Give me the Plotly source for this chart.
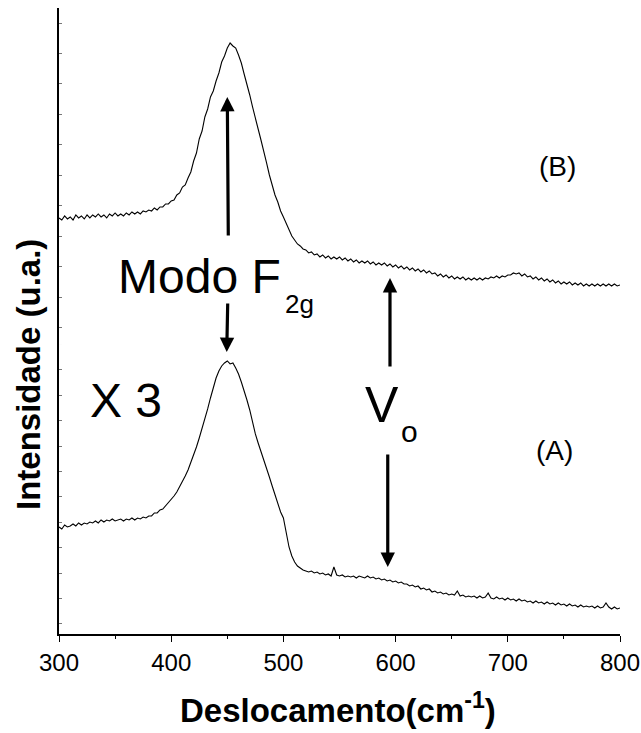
import numpy as np
import plotly.graph_objects as go

# Raman shift grid (cm^-1), 2.5 cm^-1 sampling
shift_start, shift_stop, shift_step = 300.0, 800.0, 2.5
raman_shift = np.arange(shift_start, shift_stop + shift_step / 2, shift_step)

# Spectrum (B), arbitrary units
intensity_b = [
    127, 125, 129, 126, 128, 125, 130, 127, 129, 126, 130, 127, 130, 128, 131, 128,
    130, 127, 131, 129, 132, 129, 131, 129, 132, 130, 133, 131, 133, 131, 134, 133,
    135, 134, 137, 135, 138, 138, 141, 141, 144, 145, 150, 152, 158, 160, 167, 173,
    184, 192, 206, 214, 228, 236, 248, 254, 264, 272, 283, 289, 297, 302, 299, 297,
    290, 282, 271, 261, 250, 238, 228, 216, 205, 192, 182, 170, 160, 150, 143, 134,
    128, 121, 115, 109, 105, 101, 99, 96, 95, 92, 93, 90, 91, 88, 90, 87,
    89, 86, 88, 86, 88, 85, 87, 84, 86, 83, 85, 82, 84, 82, 84, 81,
    83, 80, 82, 80, 82, 79, 81, 78, 80, 77, 79, 76, 78, 75, 77, 74,
    76, 73, 75, 72, 74, 71, 72, 69, 71, 68, 70, 67, 69, 66, 68, 66,
    68, 65, 67, 65, 67, 65, 67, 65, 67, 66, 68, 67, 69, 67, 69, 68,
    70, 70, 72, 71, 72, 69, 71, 68, 69, 66, 68, 65, 67, 64, 66, 63,
    65, 62, 64, 61, 63, 61, 63, 60, 62, 60, 62, 59, 61, 59, 61, 59,
    61, 59, 61, 59, 61, 59, 61, 59, 60,
]

# Spectrum (A), arbitrary units (shown x3)
intensity_a = [
    107, 105, 109, 107, 108, 110, 108, 111, 109, 111, 110, 112, 111, 113, 111, 114,
    112, 114, 113, 115, 113, 114, 115, 113, 115, 114, 116, 114, 116, 115, 117, 116,
    118, 118, 121, 121, 124, 125, 128, 131, 134, 138, 142, 147, 152, 158, 164, 171,
    178, 187, 196, 205, 214, 225, 236, 246, 256, 263, 268, 271, 273, 270, 271, 266,
    260, 252, 244, 234, 224, 211, 200, 191, 183, 175, 166, 157, 148, 139, 130, 122,
    116, 101, 87, 78, 72, 68, 66, 64, 63, 62, 63, 61, 62, 60, 61, 59,
    60, 58, 67, 59, 58, 59, 57, 58, 57, 58, 56, 58, 57, 56, 58, 56,
    57, 55, 56, 54, 55, 53, 54, 52, 53, 51, 52, 50, 50, 48, 49, 47,
    48, 45, 46, 44, 45, 42, 43, 41, 42, 40, 41, 39, 40, 39, 43, 38,
    39, 37, 38, 37, 38, 36, 38, 36, 37, 41, 36, 35, 37, 35, 36, 34,
    36, 34, 35, 33, 35, 33, 34, 32, 33, 31, 33, 31, 32, 30, 32, 30,
    31, 29, 31, 29, 30, 28, 30, 28, 29, 27, 29, 27, 28, 27, 28, 26,
    28, 26, 27, 31, 27, 25, 27, 25, 26,
]

x_ticks = [300, 400, 500, 600, 700, 800]

FONT = "Liberation Sans, Arial, sans-serif"

fig = go.Figure()
fig.add_trace(go.Scatter(x=raman_shift, y=intensity_a, mode="lines",
                         line=dict(color="black", width=1.1),
                         xaxis="x", yaxis="y", showlegend=False))
fig.add_trace(go.Scatter(x=raman_shift, y=intensity_b, mode="lines",
                         line=dict(color="black", width=1.1),
                         xaxis="x", yaxis="y2", showlegend=False))

# arrows: Modo F2g (both spectra) and oxygen vacancies V_o
arrow = dict(showarrow=True, arrowhead=2, arrowsize=0.9, arrowwidth=3.2,
             arrowcolor="black", text="", axref="pixel", ayref="pixel")
fig.add_annotation(x=450, y=248, xref="x", yref="y2", ax=1, ay=140, **arrow)
fig.add_annotation(x=449.5, y=282, xref="x", yref="y", ax=1, ay=-50, **arrow)
fig.add_annotation(x=595, y=67, xref="x", yref="y2", ax=0, ay=90, **arrow)
fig.add_annotation(x=593, y=67, xref="x", yref="y", ax=0, ay=-114, **arrow)

def label(text, x, y, size, **kw):
    fig.add_annotation(text=text, x=x, y=y, xref="x", yref="paper",
                       showarrow=False, xanchor="center", yanchor="middle",
                       font=dict(family=FONT, size=size, color="black"), **kw)

label("Modo F", 424.8, 0.5716, 48)
label("2g", 514.5, 0.5270, 26)
label("X 3", 359.7, 0.3735, 48)
label("V", 587.9, 0.3666, 50)
label("o", 612.8, 0.3235, 30)
label("(B)", 743.9, 0.7461, 28)
label("(A)", 741.6, 0.2933, 28)

# axis titles
fig.add_annotation(text="<b>Deslocamento(cm<sup>-1</sup>)</b>", x=0.498, y=-0.118,
                   xref="paper", yref="paper", showarrow=False,
                   xanchor="center", yanchor="middle",
                   font=dict(family=FONT, size=33, color="black"))
fig.add_annotation(text="<b>Intensidade (u.a.)</b>", x=-0.0544, y=0.4145,
                   xref="paper", yref="paper", showarrow=False, textangle=-90,
                   xanchor="center", yanchor="middle",
                   font=dict(family=FONT, size=33, color="black"))

fig.update_layout(
    width=641, height=733,
    margin=dict(l=59, r=21, t=8, b=99, autoexpand=False),
    paper_bgcolor="white", plot_bgcolor="white",
    font=dict(family=FONT, color="black"),
    xaxis=dict(range=[300, 800], tickvals=x_ticks, ticktext=[str(v) for v in x_ticks],
               ticks="outside", ticklen=6, tickwidth=1.3, tickcolor="black",
               minor=dict(ticks="outside", ticklen=3, tickwidth=1.1,
                          tickcolor="black", dtick=50, tick0=300),
               showline=True, linecolor="black", linewidth=1.5,
               showgrid=False, zeroline=False, anchor="y",
               tickfont=dict(family=FONT, size=24, color="black")),
    yaxis=dict(domain=[0, 0.5304], range=[0, 332], tick0=10, dtick=25.4,
               ticks="inside", ticklen=3, tickwidth=1, tickcolor="#777",
               showticklabels=False, showline=True, linecolor="black",
               linewidth=1.5, showgrid=False, zeroline=False, anchor="x"),
    yaxis2=dict(domain=[0.4617, 1], range=[0, 337], tick0=17.5, dtick=30.45,
                ticks="inside", ticklen=3, tickwidth=1, tickcolor="#777",
                showticklabels=False, showline=True, linecolor="black",
                linewidth=1.5, showgrid=False, zeroline=False, anchor="x"),
)

fig.write_html("out.html")
